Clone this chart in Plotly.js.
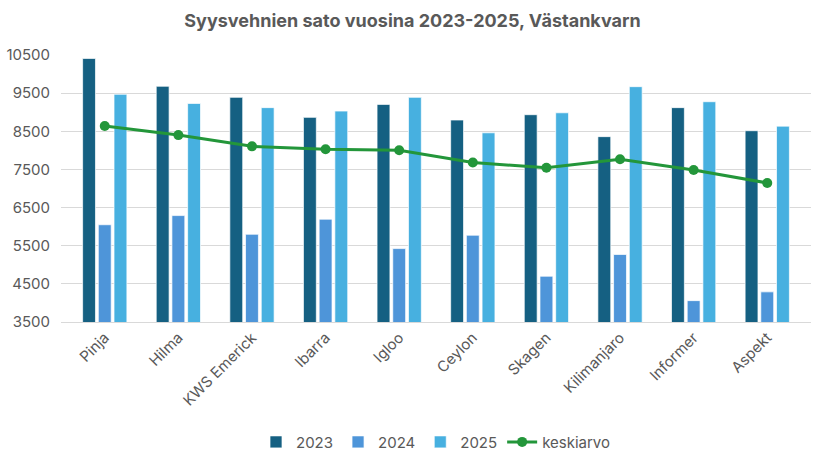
<!DOCTYPE html>
<html>
<head>
<meta charset="utf-8">
<script src="https://cdn.plot.ly/plotly-3.0.1.min.js"></script>
<style>
  html, body { margin: 0; padding: 0; background: #fff; }
  #chart { width: 825px; height: 462px; }
</style>
</head>
<body>
<div id="chart"></div>
<script>
const lajikkeet = ['Pinja', 'Hilma', 'KWS Emerick', 'Ibarra', 'Igloo', 'Ceylon', 'Skagen', 'Kilimanjaro', 'Informer', 'Aspekt'];
const sato2023 = [10410, 9680, 9390, 8865, 9205, 8795, 8935, 8360, 9120, 8515];
const sato2024 = [6050, 6290, 5800, 6195, 5425, 5775, 4700, 5270, 4060, 4290];
const sato2025 = [9470, 9230, 9120, 9030, 9390, 8460, 8985, 9670, 9275, 8635];
const keskiarvo = [8640, 8400, 8105, 8030, 8005, 7680, 7545, 7765, 7485, 7145];
const yTicks = [3500, 4500, 5500, 6500, 7500, 8500, 9500, 10500];

const gray = '#595959';
const barLine = { color: 'rgba(255,255,255,0.7)', width: 1 };

const traces = [
    { type: 'bar', name: '2023', x: lajikkeet, y: sato2023, marker: { color: '#156082', line: barLine } },
    { type: 'bar', name: '2024', x: lajikkeet, y: sato2024, marker: { color: '#4E95D9', line: barLine } },
    { type: 'bar', name: '2025', x: lajikkeet, y: sato2025, marker: { color: '#47B0E0', line: barLine } },
    {
        type: 'scatter', mode: 'lines+markers', name: 'keskiarvo', x: lajikkeet, y: keskiarvo,
        line: { color: '#23963A', width: 3 },
        marker: { color: '#23963A', size: 10 }
    }
];

const layout = {
    width: 825, height: 462,
    margin: { l: 61, r: 14, t: 55, b: 140 },
    paper_bgcolor: '#fff', plot_bgcolor: '#fff',
    font: { family: 'Inter, "Open Sans", sans-serif', color: gray, size: 14 },
    title: {
        text: '<b>Syysvehnien sato vuosina 2023-2025, Västankvarn</b>',
        font: { size: 18, color: gray },
        x: 0.5, xanchor: 'center', y: 0.955, yanchor: 'middle'
    },
    barmode: 'group', bargap: 0.36, bargroupgap: 0.18,
    xaxis: {
        tickangle: -45, tickfont: { size: 15, color: gray },
        showline: true, linecolor: '#d9d9d9', linewidth: 1,
        ticks: '', fixedrange: true
    },
    yaxis: {
        range: [3500, 10500], tickvals: yTicks, ticktext: yTicks.map(String),
        tickfont: { size: 15, color: gray }, ticklabelstandoff: 10,
        gridcolor: '#d9d9d9', gridwidth: 1, zeroline: false,
        ticks: '', ticklen: 0, fixedrange: true
    },
    legend: {
        orientation: 'h', x: 0.5, xanchor: 'center',
        yref: 'container', y: 0.043, yanchor: 'middle',
        font: { size: 15, color: gray },
        traceorder: 'normal', itemwidth: 30
    },
    showlegend: true
};

Plotly.newPlot('chart', traces, layout, { displayModeBar: false, staticPlot: true });
</script>
</body>
</html>
